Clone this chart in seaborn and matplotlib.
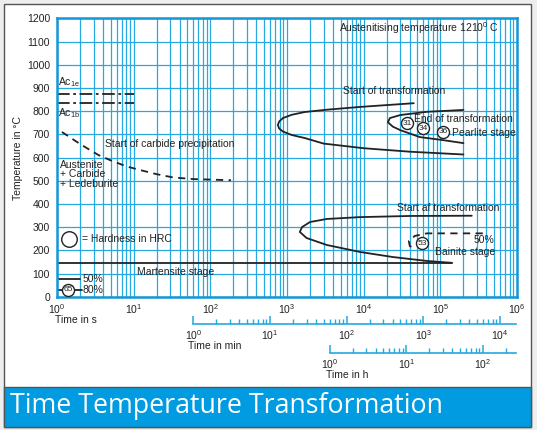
import math
import matplotlib
matplotlib.use("Agg")
import matplotlib.pyplot as plt
import seaborn as sns
import pandas as pd
from matplotlib.patches import Rectangle
from matplotlib.ticker import FixedLocator, FuncFormatter, NullFormatter, MultipleLocator

# ---- data (time in s, temperature in C) ----
ac1e_time = [1, 10]
ac1e_temp = [873, 873]
ac1b_time = [1, 10]
ac1b_temp = [834, 834]

carbide_time = [1.16, 1.8, 2.46, 3.5, 4.9, 8, 12.1, 20, 32.7, 60, 186]
carbide_temp = [710, 668, 640, 610, 589, 562, 546, 528, 514, 507, 502]

pearl_start_time = [45000, 9000, 3300, 1700, 1150, 885, 790, 760, 790, 885, 1150, 1700, 3000, 10000, 40000, 200000]
pearl_start_temp = [834, 818, 806, 796, 784, 770, 755, 740, 725, 712, 697, 684, 660, 640, 625, 613]

pearl_end_time = [200000, 67000, 30000, 22000, 20700, 24000, 30000, 54000, 108000, 200000]
pearl_end_temp = [805, 797, 783, 770, 752, 733, 718, 688, 675, 662]

bain_start_time = [257000, 40000, 8900, 3300, 2000, 1570, 1470, 1800, 3300, 8900, 24000, 67000, 141000]
bain_start_temp = [349, 348, 343, 335, 322, 300, 279, 253, 223, 193, 171, 154, 146]

bain_half_time = [358000, 66700, 46500, 38800, 40000, 48000]
bain_half_temp = [273, 273, 262, 240, 218, 206]

ms_time = [1, 141000]
ms_temp = [145, 145]
mart50_time = [1, 2.0]
mart50_temp = [76, 76]
mart80_time = [1, 2.1]
mart80_temp = [30, 30]

hard_time = [36600, 59100, 108000, 57400, 1.4]
hard_temp = [748, 727, 710, 231, 30]
hard_value = ["31", "34", "36", "53", "65"]

sec_major = [1, 10, 100, 1000, 10000, 100000, 1000000]
sec_minor = [m * d for d in [1, 10, 100, 1000, 10000, 100000] for m in range(2, 10)]
min_major = [1, 10, 100, 1000, 10000]
min_minor = [m * d for d in [1, 10, 100, 1000] for m in range(2, 10)]
h_major = [1, 10, 100]
h_minor = [m * d for d in [1, 10] for m in range(2, 10)] + [200]

# ---- style ----
sns.set_style("white")
plt.rcParams["font.family"] = ["Liberation Sans", "DejaVu Sans"]
plt.rcParams["axes.unicode_minus"] = False

W, H = 537, 430
GRID = "#25a9e0"
SPINE = "#1597d6"
INK = "#222222"


def fx(px):
    return px / W


def fy(py):
    return 1 - py / H


def pow_label(v, pos):
    return r"$\mathdefault{10^{%d}}$" % round(math.log10(v))


fig = plt.figure(figsize=(W / 100, H / 100), dpi=100, facecolor="#eceef0")
fig.patches.append(Rectangle((fx(4), fy(427)), fx(527), 423 / H, transform=fig.transFigure,
                             facecolor="white", edgecolor="#555555", lw=1, zorder=-2))
fig.patches.append(Rectangle((fx(4), fy(427)), fx(527), 40 / H, transform=fig.transFigure,
                             facecolor="#009be1", edgecolor="#555555", lw=1, zorder=-1))
fig.text(fx(10), fy(406), "Time Temperature Transformation", color="white",
         fontsize=19.3, family=["Open Sans", "DejaVu Sans"], va="center", ha="left")

ax = fig.add_axes([fx(57), fy(296.7), fx(460), 278.4 / H])


def curve(t, T, ls="-"):
    df = pd.DataFrame({"time": t, "temp": T})
    sns.lineplot(data=df, x="time", y="temp", sort=False, estimator=None,
                 color=INK, lw=1.3, linestyle=ls, ax=ax)


curve(ac1e_time, ac1e_temp, (0, (7, 2, 1.5, 2)))
curve(ac1b_time, ac1b_temp, (0, (7, 2, 1.5, 2)))
curve(carbide_time, carbide_temp, (0, (4, 3)))
curve(pearl_start_time, pearl_start_temp)
curve(pearl_end_time, pearl_end_temp)
curve(bain_start_time, bain_start_temp)
curve(bain_half_time, bain_half_temp, (0, (4, 3)))
curve(ms_time, ms_temp)
curve(mart50_time, mart50_temp)
curve(mart80_time, mart80_temp)

hard = pd.DataFrame({"time": hard_time, "temp": hard_temp})
sns.scatterplot(data=hard, x="time", y="temp", s=75, facecolor="white",
                edgecolor=INK, linewidth=1.0, zorder=5, ax=ax)
for t, T, v in zip(hard_time, hard_temp, hard_value):
    ax.text(t, T, v, fontsize=6, ha="center", va="center", zorder=6, color=INK)
# legend circle
ax.scatter([1.43], [248], s=125, facecolor="white", edgecolor=INK, linewidth=1.0, zorder=5)

ax.set_xscale("log")
ax.set_xlim(1, 1e6)
ax.set_ylim(0, 1200)
ax.yaxis.set_major_locator(MultipleLocator(100))
ax.xaxis.set_major_locator(FixedLocator(sec_major))
ax.xaxis.set_minor_locator(FixedLocator(sec_minor))
ax.xaxis.set_minor_formatter(NullFormatter())
ax.xaxis.set_major_formatter(FuncFormatter(pow_label))
ax.grid(which="both", axis="x", color=GRID, lw=0.9)
ax.grid(which="major", axis="y", color=GRID, lw=0.9)
ax.set_axisbelow(True)
for s in ax.spines.values():
    s.set_color(SPINE)
    s.set_linewidth(1.8)
ax.tick_params(axis="both", which="both", length=0, labelsize=7.5, colors=INK)
ax.tick_params(axis="y", pad=5)
ax.tick_params(axis="x", pad=4)
ax.set_xlabel("")
ax.xaxis.label.set_visible(False)
ax.set_ylabel("Temperature in °C", fontsize=7.5, labelpad=3, color=INK)

txt = dict(fontsize=7.5, color=INK, va="center", ha="left", zorder=7)
ax.text(4750, 1158, r"Austenitising temperature 1210$^{\mathdefault{0}}$ C", **txt)
ax.text(5360, 887, "Start of transformation", **txt)
ax.text(46000, 768, "End of transformation", **txt)
ax.text(140000, 707, "Pearlite stage", **txt)
ax.text(27000, 382, "Start af transformation", **txt)
ax.text(270000, 243, "50%", **txt)
ax.text(85000, 192, "Bainite stage", **txt)
ax.text(11, 106, "Martensite stage", **txt)
ax.text(2.15, 76, "50%", **txt)
ax.text(2.15, 30, "80%", **txt)
ax.text(2.1, 248, "= Hardness in HRC", **txt)
ax.text(4.2, 658, "Start of carbide precipitation", **txt)
ax.text(1.02, 925, r"Ac$_{\mathdefault{1e}}$", **txt)
ax.text(1.02, 791, r"Ac$_{\mathdefault{1b}}$", **txt)
ax.text(1.1, 590, "Austenite\n+ Carbide\n+ Ledeburite", fontsize=7.5, color=INK,
        va="top", ha="left", linespacing=0.95, zorder=7)

fig.text(fx(55), fy(320), "Time in s", fontsize=7.5, color=INK, va="center", ha="left")


def time_axis(py, factor, majors, minors, label, lab_x, lab_y):
    a = fig.add_axes([fx(57), fy(py), fx(460), 0.0001])
    a.set_facecolor("none")
    a.set_xscale("log")
    a.set_xlim(1 / factor, 1e6 / factor)
    a.yaxis.set_visible(False)
    a.xaxis.label.set_visible(False)
    for k in ("left", "right", "top"):
        a.spines[k].set_visible(False)
    a.spines["bottom"].set_color(GRID)
    a.spines["bottom"].set_linewidth(1.2)
    a.spines["bottom"].set_bounds(majors[0], 0.975e6 / factor)
    a.xaxis.set_major_locator(FixedLocator(majors))
    a.xaxis.set_minor_locator(FixedLocator(minors))
    a.xaxis.set_minor_formatter(NullFormatter())
    a.xaxis.set_major_formatter(FuncFormatter(pow_label))
    a.tick_params(which="both", bottom=True, top=False)
    a.tick_params(which="major", direction="in", length=6, width=1.1, color=GRID,
                  labelsize=7.5, labelcolor=INK, pad=3)
    a.tick_params(which="minor", direction="in", length=3.5, width=1.0, color=GRID)
    fig.text(fx(lab_x), fy(lab_y), label, fontsize=7.5, color=INK, va="center", ha="left")
    return a


time_axis(324, 60, min_major, min_minor, "Time in min", 188, 346)
time_axis(353, 3600, h_major, h_minor, "Time in h", 326, 375)

fig.savefig("out.png", dpi=100, facecolor=fig.get_facecolor())
